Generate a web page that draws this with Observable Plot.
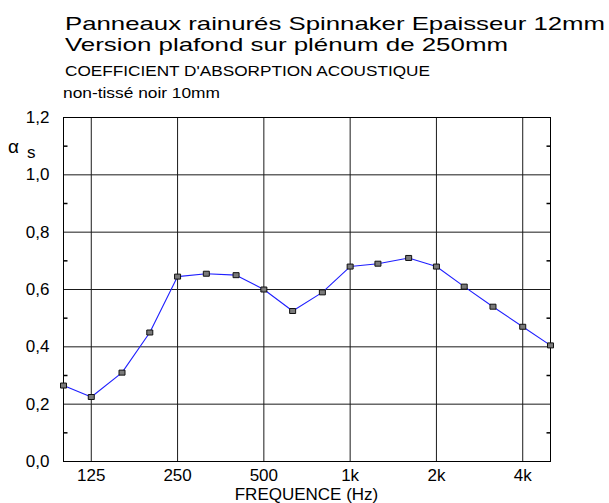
<!DOCTYPE html>
<html>
<head>
<meta charset="utf-8">
<script src="https://cdn.jsdelivr.net/npm/d3@7"></script>
<script src="https://cdn.jsdelivr.net/npm/@observablehq/plot@0.6"></script>
<style>
  html, body { margin: 0; padding: 0; background: #fff; }
  #chart { width: 609px; height: 503px; }
</style>
</head>
<body>
<div id="chart"></div>
<script>
// ---- data ----
const frequencies = [100, 125, 160, 200, 250, 315, 400, 500, 630, 800, 1000, 1250, 1600, 2000, 2500, 3150, 4000, 5000];
const alphaS = [0.265, 0.225, 0.31, 0.45, 0.645, 0.655, 0.65, 0.60, 0.525, 0.59, 0.68, 0.69, 0.71, 0.68, 0.61, 0.54, 0.47, 0.405];
const xTickValues = [125, 250, 500, 1000, 2000, 4000];
const xTickLabels = ["125", "250", "500", "1k", "2k", "4k"];
const yTickValues = [0, 0.2, 0.4, 0.6, 0.8, 1.0, 1.2];
const yMinorTicks = [0.1, 0.3, 0.5, 0.7, 0.9, 1.1];
const titleLine1 = "Panneaux rainurés Spinnaker Epaisseur 12mm";
const titleLine2 = "Version plafond sur plénum de 250mm";
const subtitle = "COEFFICIENT D'ABSORPTION ACOUSTIQUE";
const note = "non-tissé noir 10mm";
const xLabel = "FREQUENCE (Hz)";

const data = frequencies.map((f, i) => ({f, a: alphaS[i]}));
const xTicks = xTickValues.map((v, i) => ({v, label: xTickLabels[i]}));

// custom symbols
const errMarker = {
  draw(ctx) {
    ctx.moveTo(-3, -2.5); ctx.lineTo(3, -2.5); ctx.lineTo(3, 2.5); ctx.lineTo(-3, 2.5); ctx.closePath();
  }
};
const tickRight = { draw(ctx) { ctx.moveTo(0, 0); ctx.lineTo(4, 0); } };
const tickLeft = { draw(ctx) { ctx.moveTo(0, 0); ctx.lineTo(-4, 0); } };

const font = "'Liberation Sans', Arial, sans-serif";

const svg = Plot.plot({
  width: 609,
  height: 503,
  marginLeft: 63,
  marginRight: 59,
  marginTop: 117,
  marginBottom: 42,
  style: {fontFamily: font, fontSize: "17px", background: "#fff", color: "#000"},
  x: {type: "log", domain: [100, 5000], axis: null},
  y: {domain: [0, 1.2]},
  marks: [
    Plot.gridX(xTickValues, {stroke: "#1a1a1a", strokeOpacity: 1, strokeWidth: 1}),
    Plot.gridY(yTickValues, {stroke: "#1a1a1a", strokeOpacity: 1, strokeWidth: 1}),
    Plot.frame({stroke: "#000", strokeWidth: 1}),
    Plot.dot(yMinorTicks, {y: d => d, frameAnchor: "left", symbol: tickRight, stroke: "#000", r: 2}),
    Plot.dot(yMinorTicks, {y: d => d, frameAnchor: "right", symbol: tickLeft, stroke: "#000", r: 2}),
    Plot.text(xTicks, {
      x: "v", text: "label", frameAnchor: "bottom", lineAnchor: "top", dy: 7.5,
      fontSize: 17, fill: "#000"
    }),
    Plot.axisY(yTickValues, {
      anchor: "left", tickSize: 0, tickPadding: 14, label: null,
      tickFormat: d => d.toFixed(1).replace(".", ","), fontSize: 17
    }),
    Plot.line(data, {x: "f", y: "a", stroke: "#1f1fff", strokeWidth: 1.1}),
    Plot.dot(data, {x: "f", y: "a", symbol: errMarker, fill: "#7a7a7a", stroke: "#111", strokeWidth: 1, r: 3})
  ]
});

document.getElementById("chart").appendChild(svg);

const s = d3.select(svg);
function addText(txt, x, y, size, len, anchor) {
  const t = s.append("text")
    .attr("x", x).attr("y", y)
    .attr("font-family", font)
    .attr("font-size", size)
    .attr("fill", "#000")
    .attr("text-anchor", anchor || "start")
    .text(txt);
  if (len) t.attr("textLength", len).attr("lengthAdjust", "spacingAndGlyphs");
  return t;
}
addText(titleLine1, 65, 30, 18.5, 540);
addText(titleLine2, 65, 51, 18.5, 443);
addText(subtitle, 65, 76, 14.5, 365);
addText(note, 63, 98, 14.5, 157);
addText(xLabel, 306.5, 500, 17, null, "middle");
addText("α", 8, 153, 19);
addText("s", 27, 158, 17);
</script>
</body>
</html>
